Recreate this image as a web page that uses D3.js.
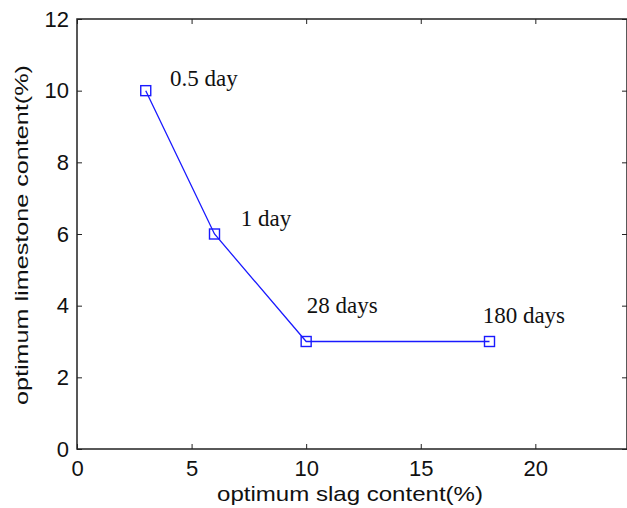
<!DOCTYPE html>
<html>
<head>
<meta charset="utf-8">
<script src="https://cdn.jsdelivr.net/npm/d3@7"></script>
<style>
body { margin: 0; background: #fff; }
</style>
</head>
<body>
<div id="chart-area"></div>
<script>
// data
var slag = [3, 6, 10, 18];
var limestone = [10, 6, 3, 3];
var ageLabels = ["0.5 day", "1 day", "28 days", "180 days"];
var labelX = [4.06, 7.15, 10.03, 17.7];
var labelY = [10.13, 6.22, 3.8, 3.52];
var xTicks = [0, 5, 10, 15, 20];
var yTicks = [0, 2, 4, 6, 8, 10, 12];

var margin = { top: 19, bottom: 59, left: 77, right: 0 };
var width  = 627 - margin.left - margin.right;
var height = 508 - margin.top  - margin.bottom;

var svg = d3.select("#chart-area")
    .append("svg")
        .attr("width", 627)
        .attr("height", 508);

var g = svg.append("g")
    .attr("transform", "translate(" + margin.left + ", " + margin.top + ")");

var x = d3.scaleLinear().domain([0, 24]).range([0, width]);
var y = d3.scaleLinear().domain([0, 12]).range([height, 0]);

// box
g.append("rect")
    .attr("x", 0).attr("y", 0)
    .attr("width", width).attr("height", height)
    .attr("fill", "none")
    .attr("stroke", "#222")
    .attr("stroke-width", 1.5);

// inward ticks, all four sides
var xAxisCall = d3.axisBottom(x).tickValues(xTicks).tickSizeInner(-5).tickSizeOuter(0).tickPadding(8);
var yAxisCall = d3.axisLeft(y).tickValues(yTicks).tickSizeInner(-5).tickSizeOuter(0).tickPadding(8);

var xa = g.append("g")
    .attr("class", "x-axis")
    .attr("transform", "translate(0, " + height + ")")
    .call(xAxisCall);

var ya = g.append("g")
    .attr("class", "y-axis")
    .call(yAxisCall);

g.append("g")
    .call(d3.axisTop(x).tickValues(xTicks).tickSizeInner(-5).tickSizeOuter(0).tickFormat(""));
g.append("g")
    .attr("transform", "translate(" + width + ", 0)")
    .call(d3.axisRight(y).tickValues(yTicks).tickSizeInner(-5).tickSizeOuter(0).tickFormat(""));

g.selectAll(".domain").remove();
g.selectAll(".tick line").attr("stroke", "#222");
g.selectAll(".x-axis text, .y-axis text")
    .attr("font-family", "Arial, 'Liberation Sans', sans-serif")
    .attr("font-size", "22px")
    .attr("fill", "#111");
xa.selectAll("text").attr("dy", "0.85em");

g.append("text")
    .attr("x", 140)
    .attr("y", height + 52)
    .attr("textLength", 266)
    .attr("lengthAdjust", "spacingAndGlyphs")
    .attr("font-family", "Arial, 'Liberation Sans', sans-serif")
    .attr("font-size", "21px")
    .attr("fill", "#111")
    .text("optimum slag content(%)");

g.append("text")
    .attr("x", -216 - 170)
    .attr("y", -49)
    .attr("transform", "rotate(-90)")
    .attr("textLength", 340)
    .attr("lengthAdjust", "spacingAndGlyphs")
    .attr("font-family", "Arial, 'Liberation Sans', sans-serif")
    .attr("font-size", "19px")
    .attr("fill", "#111")
    .text("optimum limestone content(%)");

var pts = slag.map(function(d, i) { return [d, limestone[i]]; });

g.append("path")
    .datum(pts)
    .attr("fill", "none")
    .attr("stroke", "#1a1aff")
    .attr("stroke-width", 1.3)
    .attr("d", d3.line()
        .x(function(d) { return x(d[0]); })
        .y(function(d) { return y(d[1]); }));

g.selectAll("rect.marker")
    .data(pts)
    .enter()
    .append("rect")
        .attr("class", "marker")
        .attr("x", function(d) { return x(d[0]) - 5; })
        .attr("y", function(d) { return y(d[1]) - 5; })
        .attr("width", 10)
        .attr("height", 10)
        .attr("fill", "none")
        .attr("stroke", "#1a1aff")
        .attr("stroke-width", 1.4);

g.selectAll("text.age")
    .data(ageLabels)
    .enter()
    .append("text")
        .attr("class", "age")
        .attr("x", function(d, i) { return x(labelX[i]); })
        .attr("y", function(d, i) { return y(labelY[i]); })
        .attr("font-family", "'Liberation Serif', 'Times New Roman', serif")
        .attr("font-size", "23px")
        .attr("fill", "#111")
        .text(function(d) { return d; });
</script>
</body>
</html>
